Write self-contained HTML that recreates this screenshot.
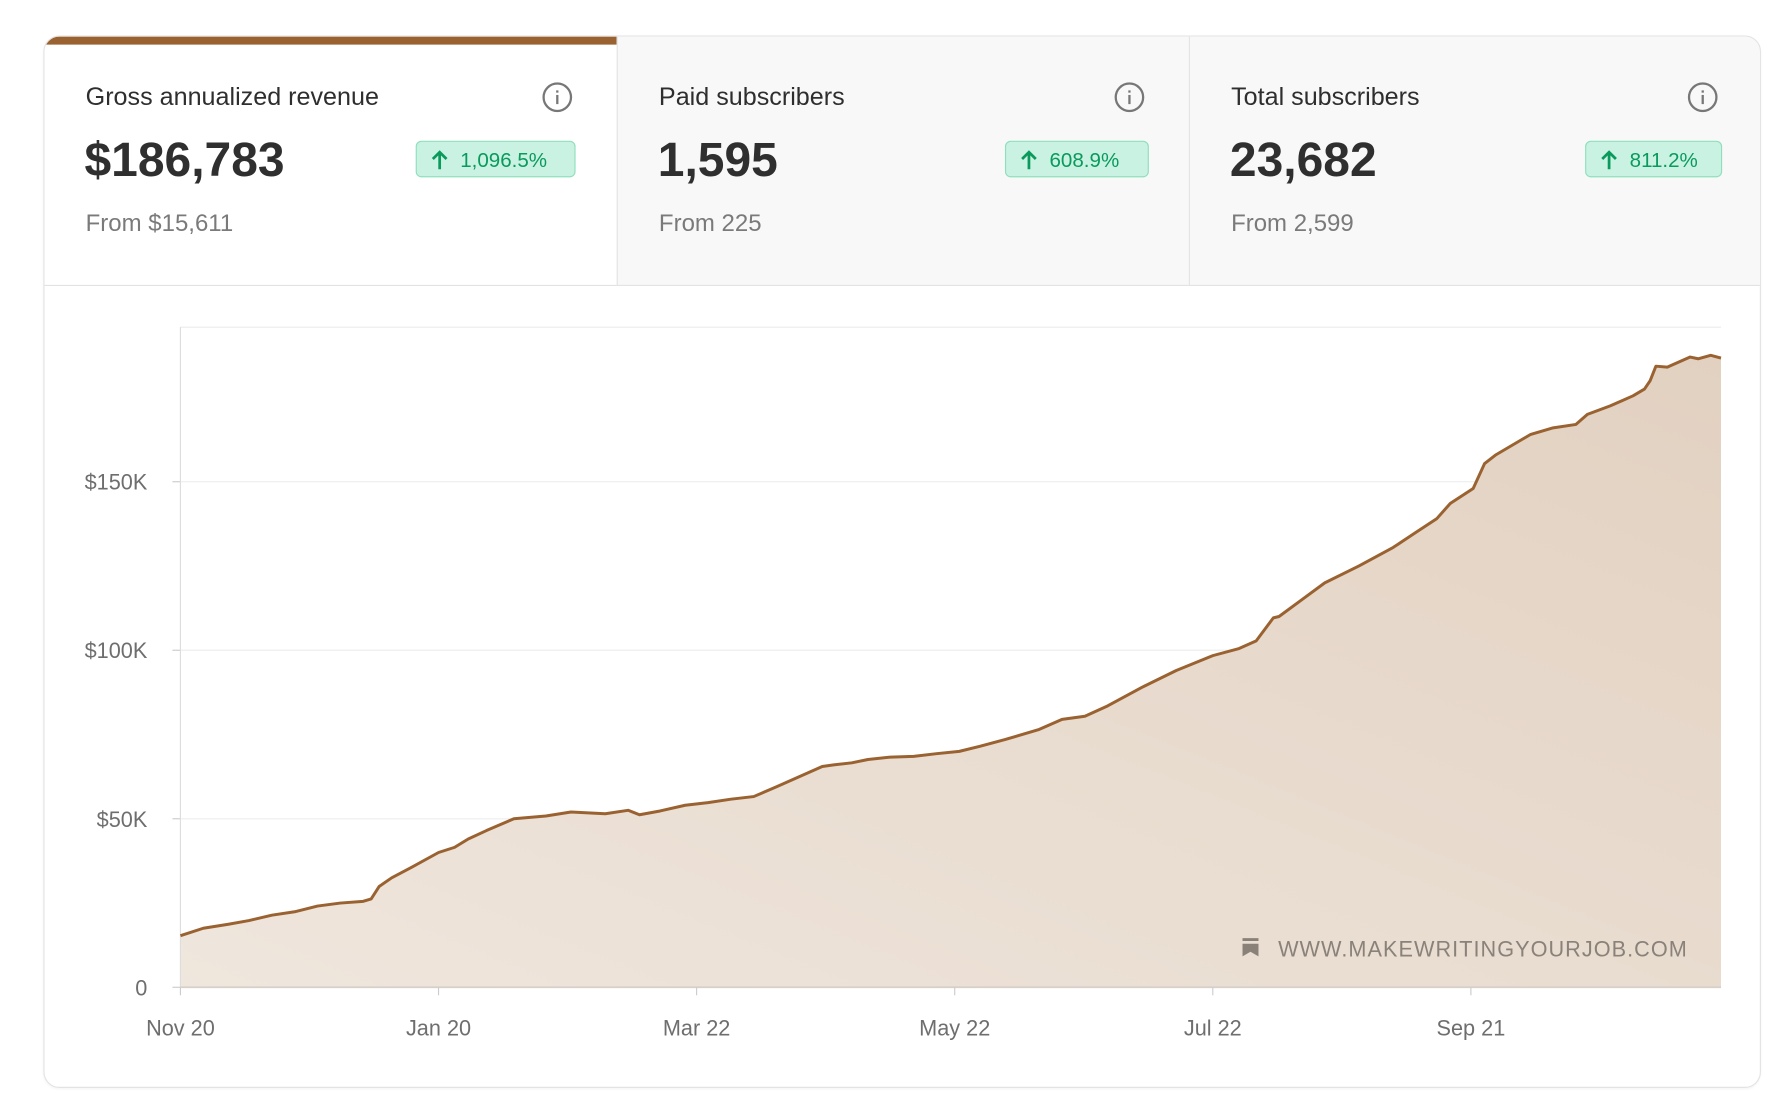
<!DOCTYPE html>
<html><head><meta charset="utf-8">
<style>
html,body{margin:0;padding:0;background:#fff;}
body{width:1790px;height:1120px;overflow:hidden;font-family:"Liberation Sans",sans-serif;}
#wrap{position:absolute;left:0;top:0;width:1560px;height:960px;transform-origin:0 0;transform:scale(1.142,1.144);}
.card{position:absolute;left:38px;top:31px;width:1502px;height:918px;border:1px solid #e3e3e3;border-radius:14px;background:#fff;overflow:hidden;box-shadow:0 1px 2px rgba(0,0,0,0.04);}
.panel{position:absolute;top:0;height:217px;border-bottom:1px solid #e3e3e3;}
.p1{left:0;width:501px;background:#fff;}
.p2{left:501px;width:500px;background:#f8f8f8;border-left:1px solid #e3e3e3;}
.p3{left:1002px;width:500px;background:#f8f8f8;border-left:1px solid #e3e3e3;}
.bar{position:absolute;left:0;top:0;width:501px;height:7px;background:#9a6230;}
.title{position:absolute;left:36px;top:40px;font-size:22px;color:#2e2e2e;}
.big{position:absolute;left:35px;top:84px;font-size:42px;font-weight:bold;color:#2f2f2f;}
.from{position:absolute;left:36px;top:152px;font-size:21px;color:#7a7a7a;}
.info{position:absolute;top:40px;width:22px;height:22px;border:2px solid #777;border-radius:50%;}
.info:before{content:"";position:absolute;left:10px;top:5px;width:2px;height:2px;background:#777;}
.info:after{content:"";position:absolute;left:10px;top:9px;width:2px;height:8px;background:#777;}
.badge{position:absolute;top:91px;height:32px;border:1px solid #8fdfbd;background:#c9f2e2;border-radius:5px;color:#0a9a5c;font-size:18px;line-height:32px;box-sizing:border-box;padding-left:38px;}
.badge svg{position:absolute;left:12px;top:7px;}
</style></head><body>
<div id="wrap">
<div class="card">
  <div class="panel p1">
    <div class="bar"></div>
    <div class="title">Gross annualized revenue</div>
    <div class="info" style="left:436px"></div>
    <div class="big">$186,783</div>
    <div class="badge" style="left:325px;width:140px"><svg width="16" height="18" viewBox="0 0 16 18"><path d="M8 17V2M2 8l6-6 6 6" stroke="#0a9a5c" stroke-width="2.4" fill="none"/></svg>1,096.5%</div>
    <div class="from">From $15,611</div>
  </div>
  <div class="panel p2">
    <div class="title">Paid subscribers</div>
    <div class="info" style="left:435px"></div>
    <div class="big">1,595</div>
    <div class="badge" style="left:339px;width:126px"><svg width="16" height="18" viewBox="0 0 16 18"><path d="M8 17V2M2 8l6-6 6 6" stroke="#0a9a5c" stroke-width="2.4" fill="none"/></svg>608.9%</div>
    <div class="from">From 225</div>
  </div>
  <div class="panel p3">
    <div class="title">Total subscribers</div>
    <div class="info" style="left:436px"></div>
    <div class="big">23,682</div>
    <div class="badge" style="left:346px;width:120px"><svg width="16" height="18" viewBox="0 0 16 18"><path d="M8 17V2M2 8l6-6 6 6" stroke="#0a9a5c" stroke-width="2.4" fill="none"/></svg>811.2%</div>
    <div class="from">From 2,599</div>
  </div>
</div>
<svg id="chart" width="1560" height="960" style="position:absolute;left:0;top:0">
  <defs>
    <linearGradient id="fillg" x1="0" y1="1" x2="1" y2="0">
      <stop offset="0" stop-color="#efe6dd"/>
      <stop offset="1" stop-color="#e2d1c1"/>
    </linearGradient>
  </defs>
</svg>
</div>
<script>
const days = [0,20,42,60,80,100,120,140,160,167,174,185,202,226,240,252,268,292,320,342,372,392,402,420,442,462,482,502,522,542,562,572,588,602,622,642,662,682,700,722,752,772,792,812,842,872,904,927,942,957,962,982,1002,1032,1062,1082,1100,1112,1132,1142,1152,1182,1202,1222,1232,1252,1262,1272,1282,1287,1292,1302,1322,1329,1340,1349];
const revenueK = [15.3,17.5,18.7,19.8,21.4,22.4,24.1,25.0,25.5,26.2,29.9,32.5,35.5,40.0,41.5,44.0,46.5,50.0,50.8,52.0,51.5,52.5,51.2,52.3,54.0,54.8,55.8,56.6,59.5,62.5,65.5,66.0,66.6,67.6,68.3,68.5,69.3,70.0,71.5,73.5,76.5,79.5,80.4,83.5,89,94,98.4,100.5,102.8,109.6,110,115,120,125,130.5,135,139,143.6,148,155.4,158,164,166,167,170,172.5,174,175.5,177.5,180,184.3,184,187,186.5,187.5,186.7];
const yTicks = [0,50,100,150];
const yTickLabels = ["0","$50K","$100K","$150K"];
const xTickDays = [0,226,452,678,904,1130];
const xTickLabels = ["Nov 20","Jan 20","Mar 22","May 22","Jul 22","Sep 21"];

const X0=158, X1=1507, Y0=863, YTOP=286, DAYMAX=1349, VALMAX=(863-286)/147.3*50;
const xs = d => X0 + d/DAYMAX*(X1-X0);
const ys = v => Y0 - v/VALMAX*(Y0-YTOP);
const NS="http://www.w3.org/2000/svg";
const svg=document.getElementById('chart');
function mk(tag,attrs){const e=document.createElementNS(NS,tag);for(const k in attrs)e.setAttribute(k,attrs[k]);svg.appendChild(e);return e;}

const topGrid=mk('line',{x1:X0,x2:X1,y1:YTOP,y2:YTOP,stroke:'#ececec','stroke-width':1});


yTicks.forEach((t,i)=>{
  const y=ys(t);
  if(t>0){const g=mk('line',{x1:X0,x2:X1,y1:y,y2:y,stroke:'#eeeeee','stroke-width':1});
  
  }
  const tk=mk('line',{x1:X0-7,x2:X0,y1:y,y2:y,stroke:'#cccccc','stroke-width':1});
  
  
  const tx=mk('text',{x:129,y:y+7,'text-anchor':'end','font-size':19,fill:'#6e6e6e','font-family':'Liberation Sans, sans-serif'});
  tx.textContent=yTickLabels[i];
  
  
});
const n=Math.min(days.length,revenueK.length);
let d='';
for(let i=0;i<n;i++){d+=(i?'L':'M')+xs(days[i]).toFixed(1)+' '+ys(revenueK[i]).toFixed(1);}
const area=mk('path',{d:d+'L'+xs(days[n-1])+' '+Y0+'L'+X0+' '+Y0+'Z',fill:'url(#fillg)'});


const yax=mk('line',{x1:X0,x2:X0,y1:YTOP,y2:Y0,stroke:'#dddddd','stroke-width':1});


const xax=mk('line',{x1:X0,x2:X1,y1:Y0,y2:Y0,stroke:'#d6d0ca','stroke-width':1.5});


const line=mk('path',{d:d,fill:'none',stroke:'#9a6230','stroke-width':2.6,'stroke-linejoin':'round'});


xTickDays.forEach((t,i)=>{
  const x=xs(t);
  const tk=mk('line',{x1:x,x2:x,y1:Y0,y2:Y0+7,stroke:'#cccccc','stroke-width':1});
  
  
  const tx=mk('text',{x:x,y:905,'text-anchor':'middle','font-size':19,fill:'#6e6e6e','font-family':'Liberation Sans, sans-serif'});
  tx.textContent=xTickLabels[i];
  
  
});
const ic=mk('path',{d:'M1088 820h14v2.5h-14zM1088 825h14v11l-7-4-7 4z',fill:'#8a8279'});


const wm=mk('text',{x:1478,y:836,'text-anchor':'end','font-size':19,fill:'#8a8279','letter-spacing':'0.9','font-family':'Liberation Sans, sans-serif'});
wm.textContent='WWW.MAKEWRITINGYOURJOB.COM';


</script>
</body></html>
